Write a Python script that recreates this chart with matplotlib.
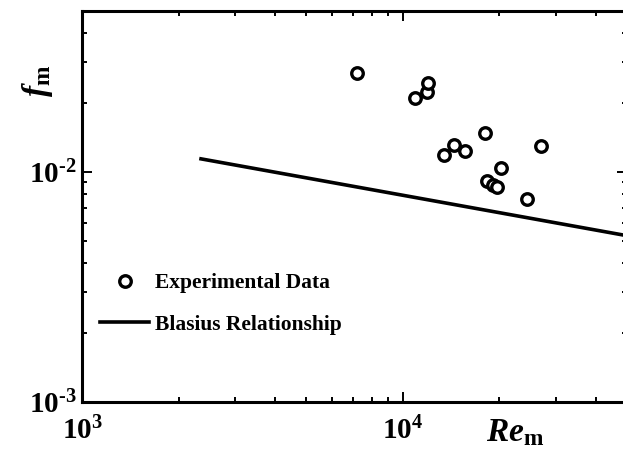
import math
import matplotlib
matplotlib.use("Agg")
import matplotlib.pyplot as plt
from matplotlib.ticker import LogLocator, NullFormatter, FuncFormatter

# experimental points
re_exp = [7200, 10900, 11900, 12000, 18000, 14400, 13400, 15600,
          26900, 20300, 18300, 19100, 19700, 24400]
f_exp = [0.0270, 0.0210, 0.0223, 0.0243, 0.0148, 0.0131, 0.0118, 0.0123,
         0.0130, 0.0104, 0.0091, 0.0088, 0.0086, 0.0076]

# Blasius relationship (straight line on log-log axes), end points
re_blasius = [2350, 50000]
f_blasius = [0.01139, 0.00528]

plt.rcParams['font.family'] = ['Liberation Serif', 'DejaVu Serif']
plt.rcParams['font.weight'] = 'bold'
plt.rcParams['mathtext.fontset'] = 'custom'
plt.rcParams['mathtext.rm'] = 'Liberation Serif:bold'
plt.rcParams['mathtext.bf'] = 'Liberation Serif:bold'
plt.rcParams['mathtext.it'] = 'Liberation Serif:bold:italic'


def decade_label(v, pos):
    # 10^n with a short hyphen like the original figure
    n = int(round(math.log10(v)))
    if n < 0:
        return r'$\mathdefault{10^{\text{-%d}}}$' % (-n)
    return r'$\mathdefault{10^{%d}}$' % n


fig = plt.figure(figsize=(6.23, 4.55), dpi=100)
ax = fig.add_axes([0.1316, 0.1165, 0.8748, 0.8593])

ax.plot(re_exp, f_exp, linestyle='none', marker='o', markersize=8.3,
        markerfacecolor='white', markeredgecolor='black', markeredgewidth=2.4,
        label='Experimental Data', zorder=3)
ax.plot(re_blasius, f_blasius, color='black', linewidth=2.6,
        label='Blasius Relationship')

ax.set_xscale('log')
ax.set_yscale('log')
ax.set_xlim(1e3, 5e4)
ax.set_ylim(1e-3, 5e-2)

for sp in ax.spines.values():
    sp.set_linewidth(2.2)

ax.xaxis.set_minor_locator(LogLocator(base=10, subs=range(2, 10)))
ax.yaxis.set_minor_locator(LogLocator(base=10, subs=range(2, 10)))
ax.xaxis.set_major_formatter(FuncFormatter(decade_label))
ax.yaxis.set_major_formatter(FuncFormatter(decade_label))
ax.xaxis.set_minor_formatter(NullFormatter())
ax.yaxis.set_minor_formatter(NullFormatter())

ax.tick_params(which='both', direction='in', top=True, right=True, width=1.4)
ax.tick_params(which='major', length=7)
ax.tick_params(which='minor', length=3.5)
ax.tick_params(axis='x', which='major', labelsize=21, pad=11)
ax.tick_params(axis='y', which='major', labelsize=21, pad=4)

ax.set_xlabel(r'$\mathit{Re}_{\mathrm{m}}$', fontsize=24, va='center')
ax.xaxis.set_label_coords(0.794, -0.079)
ax.set_ylabel(r'$\mathit{f}_{\mathrm{m}}$', fontsize=24, va='center')
ax.yaxis.set_label_coords(-0.081, 0.821)

ax.legend(loc='upper left', bbox_to_anchor=(0.033, 0.330), frameon=False,
          prop={'family': 'Liberation Serif', 'weight': 'bold', 'size': 15.5},
          handlelength=2.3, handletextpad=0.25, labelspacing=1.0,
          borderpad=0, borderaxespad=0)

fig.savefig('out.png', dpi=100)
